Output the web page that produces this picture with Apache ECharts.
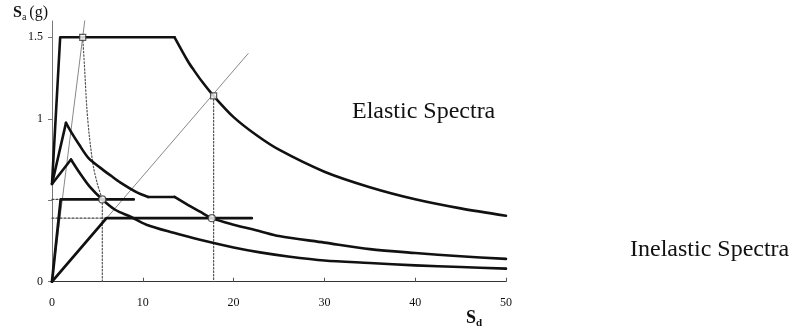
<!DOCTYPE html>
<html><head><meta charset="utf-8">
<script src="https://cdn.jsdelivr.net/npm/echarts@6/dist/echarts.min.js"></script>
<style>html,body{margin:0;padding:0;background:#fff}#c{width:792px;height:331px}</style>
</head><body><div id="c"></div>
<script>
// Elastic spectrum (Sd, Sa)
var elasticSd = [0, 0.9, 13.5, 15, 15.6, 16.5, 17.8, 20, 22.5, 25, 30, 35, 40, 45, 50];
var elasticSa = [0.6, 1.5, 1.5, 1.35, 1.3, 1.23, 1.14, 1.01, 0.9, 0.81, 0.675, 0.58, 0.506, 0.45, 0.405];
// Inelastic spectrum 1 (upper)
var inel1Sd = [0, 1.54, 2.2, 3.0, 4.0, 5.3, 6.5, 7.5, 9.3, 10.6, 13.5, 15, 16.3, 17.6, 20, 22.9, 25, 30, 35, 40, 45, 50];
var inel1Sa = [0.6, 0.975, 0.91, 0.84, 0.76, 0.70, 0.65, 0.61, 0.55, 0.52, 0.52, 0.47, 0.43, 0.39, 0.35, 0.31, 0.28, 0.24, 0.2, 0.176, 0.156, 0.14];
// Inelastic spectrum 2 (lower)
var inel2Sd = [0, 2.09, 3.08, 4.2, 5.54, 7, 8.6, 10.4, 13.4, 16.3, 20, 22.9, 26, 30, 35, 40, 45, 50];
var inel2Sa = [0.6, 0.75, 0.665, 0.58, 0.505, 0.44, 0.40, 0.35, 0.30, 0.257, 0.21, 0.18, 0.155, 0.13, 0.115, 0.10, 0.09, 0.08];
// Bilinear capacity curves
var cap1Sd = [0, 0.96, 9.0];
var cap1Sa = [0, 0.505, 0.505];
var cap2Sd = [0, 6.0, 22.0];
var cap2Sa = [0, 0.39, 0.39];
// Radial period lines
var ray1Sd = [0, 3.65];
var ray1Sa = [0, 1.62];
var ray2Sd = [0, 21.6];
var ray2Sa = [0, 1.40];
// Dotted construction lines
var dotCurveSd = [3.38, 3.6, 3.82, 4.1, 4.55, 5.0, 5.54];
var dotCurveSa = [1.5, 1.3, 1.08, 0.9, 0.71, 0.6, 0.505];
var dotV1Sd = [5.54, 5.54];
var dotV1Sa = [0.505, 0];
var dotV2Sd = [17.8, 17.8];
var dotV2Sa = [1.14, 0];
var dotH1Sd = [0, 0.96];
var dotH1Sa = [0.505, 0.505];
var dotH2Sd = [0, 6.0];
var dotH2Sa = [0.39, 0.39];
// Performance points
var squareSd = [3.38, 17.8];
var squareSa = [1.5, 1.14];
var circleSd = [5.54, 17.6];
var circleSa = [0.505, 0.39];
// Axis ticks
var xTicks = [0, 10, 20, 30, 40, 50];
var yLabelTicks = [0, 1, 1.5];
var yTicks = [0, 0.5, 1, 1.5];

function pairs(xs, ys, a, b){
  var out = xs.map(function(x,i){ return [x, ys[i]]; });
  return out.slice(a||0, b===undefined ? out.length : b);
}
function line(data, w, color, type, smooth){
  return {type:'line', data:data, showSymbol:false, silent:true, animation:false,
    smooth: smooth ? 0.3 : false,
    lineStyle:{width:w, color:color, type:type||'solid', cap:'round', join:'round'}};
}
var K = '#111';
var serif = '"Liberation Serif", "Times New Roman", serif';
var chart = echarts.init(document.getElementById('c'), null, {renderer:'canvas'});
chart.setOption({
  animation:false,
  grid:{left:52, right:286, top:21, bottom:49.3, containLabel:false},
  xAxis:{type:'value', min:0, max:50, interval:10,
    axisLine:{lineStyle:{color:'#333', width:1.2}},
    axisTick:{show:true, inside:true, length:4, customValues:xTicks, lineStyle:{color:'#555'}},
    splitLine:{show:false},
    axisLabel:{color:'#111', fontFamily:serif, fontSize:12, margin:15}},
  yAxis:{type:'value', min:0, max:1.6, interval:0.5,
    axisLine:{show:true, lineStyle:{color:'#777', width:1}},
    axisTick:{show:true, length:4, customValues:yTicks, lineStyle:{color:'#777'}},
    splitLine:{show:false},
    axisLabel:{color:'#111', fontFamily:serif, fontSize:12, margin:9, customValues:yLabelTicks}},
  series:[
    line(pairs(ray1Sd, ray1Sa), 1, '#888'),
    line(pairs(ray2Sd, ray2Sa), 1, '#888'),
    line(pairs(dotCurveSd, dotCurveSa), 1.2, '#555', [1.5,2], true),
    line(pairs(dotV1Sd, dotV1Sa), 1.2, '#555', [1.5,2]),
    line(pairs(dotV2Sd, dotV2Sa), 1.2, '#555', [1.5,2]),
    line(pairs(dotH1Sd, dotH1Sa), 1.2, '#444', [2,2]),
    line(pairs(dotH2Sd, dotH2Sa), 1.2, '#444', [2,2]),
    // elastic: rise + plateau, then smooth decay
    line(pairs(elasticSd, elasticSa, 0, 3), 2.6, K),
    line(pairs(elasticSd, elasticSa, 2), 2.6, K, null, true),
    // inelastic 1: rise, smooth decay, plateau, smooth decay
    line(pairs(inel1Sd, inel1Sa, 0, 2), 2.6, K),
    line(pairs(inel1Sd, inel1Sa, 1, 10), 2.6, K, null, true),
    line(pairs(inel1Sd, inel1Sa, 9, 11), 2.6, K),
    line(pairs(inel1Sd, inel1Sa, 10), 2.6, K, null, true),
    // inelastic 2: rise, smooth decay
    line(pairs(inel2Sd, inel2Sa, 0, 2), 2.6, K),
    line(pairs(inel2Sd, inel2Sa, 1), 2.6, K, null, true),
    line(pairs(cap1Sd, cap1Sa), 2.8, K),
    line(pairs(cap2Sd, cap2Sa), 2.8, K),
    {type:'scatter', data:pairs(squareSd, squareSa), symbol:'rect', symbolSize:6, silent:true,
      itemStyle:{color:'#fff', borderColor:'#333', borderWidth:1.2}, z:5},
    {type:'scatter', data:pairs(circleSd, circleSa), symbol:'circle', symbolSize:7, silent:true,
      itemStyle:{color:'#fff', borderColor:'#333', borderWidth:1.2}, z:5}
  ],
  graphic:[
    {type:'text', left:13, top:5, style:{
      text:'{b|S}{s|a}{n|(g)}', rich:{
        b:{fontFamily:serif, fontWeight:'bold', fontSize:16, fill:'#111'},
        s:{fontFamily:serif, fontSize:10, fill:'#111', padding:[9,3,0,0]},
        n:{fontFamily:serif, fontSize:16, fill:'#111'}}}},
    {type:'text', left:466, top:309, style:{
      text:'{b|S}{s|d}', rich:{
        b:{fontFamily:serif, fontWeight:'bold', fontSize:18, fill:'#111'},
        s:{fontFamily:serif, fontWeight:'bold', fontSize:11, fill:'#111', padding:[10,0,0,0]}}}},
    {type:'text', left:352, top:100, style:{text:'Elastic Spectra', fontFamily:serif, fontSize:24, fill:'#111'}},
    {type:'text', left:630, top:238, style:{text:'Inelastic Spectra', fontFamily:serif, fontSize:24, fill:'#111'}}
  ]
});
</script></body></html>
